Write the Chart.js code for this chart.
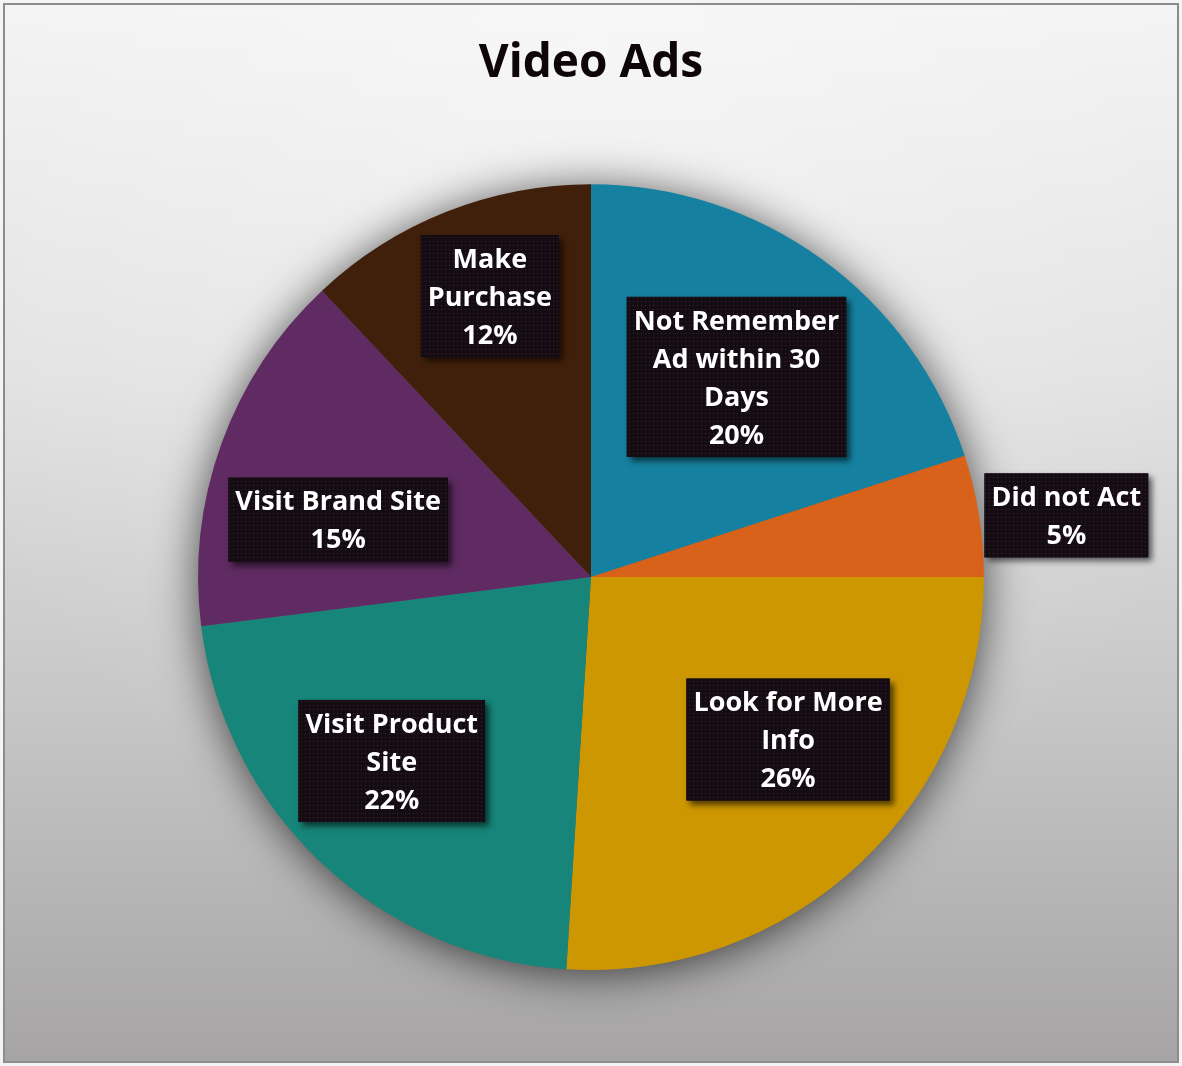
<!DOCTYPE html>
<html>
<head>
<meta charset="utf-8">
<script src="https://cdn.jsdelivr.net/npm/chart.js@4.4.1/dist/chart.umd.min.js"></script>
<style>
  html, body { margin: 0; padding: 0; background: #f2f2f2; }
  #wrap { width: 1182px; height: 1066px; position: relative; }
</style>
</head>
<body>
<div id="wrap"><canvas id="c"></canvas></div>
<script>
// ---- data ----
const chartTitle = "Video Ads";
const categories = [
  "Not Remember Ad within 30 Days",
  "Did not Act",
  "Look for More Info",
  "Visit Product Site",
  "Visit Brand Site",
  "Make Purchase"
];
const categoryLines = [
  ["Not Remember", "Ad within 30", "Days"],
  ["Did not Act"],
  ["Look for More", "Info"],
  ["Visit Product", "Site"],
  ["Visit Brand Site"],
  ["Make", "Purchase"]
];
const percentValues = [20, 5, 26, 22, 15, 12];
const sliceColors = ["#15809f", "#d9621a", "#cc9700", "#178579", "#5f2b62", "#40200a"];

// ---- label placement (radius fraction, angle shift in degrees) ----
const labelPlacement = [
  [0.63, 0], [1.22, 1.6], [0.65, -7.3], [0.69, 4.1], [0.66, -7], [0.76, 1.8]
];

const LABEL_FONT = "bold 27px 'Open Sans'";
const LINE_H = 38;

// dotted pattern for label boxes
function makePattern(ctx) {
  const p = document.createElement('canvas');
  p.width = 4; p.height = 4;
  const g = p.getContext('2d');
  g.fillStyle = '#140b13';
  g.fillRect(0, 0, 4, 4);
  g.fillStyle = '#3a2838';
  g.fillRect(1, 1, 1, 1);
  return ctx.createPattern(p, 'repeat');
}

const bgPlugin = {
  id: 'bg',
  beforeDraw(chart) {
    const ctx = chart.ctx, W = chart.width, H = chart.height;
    ctx.save();
    ctx.fillStyle = '#f4f4f4';
    ctx.fillRect(0, 0, W, H);
    const g = ctx.createLinearGradient(0, 4, 0, H - 4);
    g.addColorStop(0, '#f3f3f3');
    g.addColorStop(0.35, '#e2e2e2');
    g.addColorStop(0.7, '#c4c3c3');
    g.addColorStop(1, '#a6a4a4');
    ctx.fillStyle = g;
    ctx.fillRect(4, 4, W - 8, H - 8);
    const r = ctx.createRadialGradient(W / 2, 40, 10, W / 2, 200, 700);
    r.addColorStop(0, 'rgba(255,255,255,0.35)');
    r.addColorStop(1, 'rgba(255,255,255,0)');
    ctx.fillStyle = r;
    ctx.fillRect(4, 4, W - 8, H - 8);
    ctx.strokeStyle = '#8c8c8c';
    ctx.lineWidth = 2;
    ctx.strokeRect(4, 4, W - 8, H - 8);
    ctx.restore();
  },
  beforeDatasetsDraw(chart) {
    const arc = chart.getDatasetMeta(0).data[0];
    if (!arc) return;
    const ctx = chart.ctx;
    ctx.save();
    ctx.shadowColor = 'rgba(0,0,0,0.7)';
    ctx.shadowBlur = 45;
    ctx.shadowOffsetY = 4;
    ctx.fillStyle = '#666';
    ctx.beginPath();
    ctx.arc(arc.x, arc.y, arc.outerRadius - 1, 0, Math.PI * 2);
    ctx.fill();
    ctx.restore();
  }
};

const labelPlugin = {
  id: 'boxLabels',
  afterDatasetsDraw(chart) {
    const ctx = chart.ctx;
    const meta = chart.getDatasetMeta(0);
    const pat = makePattern(ctx);
    ctx.save();
    ctx.font = LABEL_FONT;
    ctx.textAlign = 'center';
    ctx.textBaseline = 'middle';
    meta.data.forEach((arc, i) => {
      const lines = categoryLines[i].concat([percentValues[i] + '%']);
      const [rf, dA] = labelPlacement[i];
      const mid = (arc.startAngle + arc.endAngle) / 2 + dA * Math.PI / 180;
      const cx = arc.x + Math.cos(mid) * arc.outerRadius * rf;
      const cy = arc.y + Math.sin(mid) * arc.outerRadius * rf;
      let w = 0;
      lines.forEach(l => { w = Math.max(w, ctx.measureText(l).width); });
      const bw = w + 14, bh = lines.length * LINE_H + 8;
      const bx = cx - bw / 2, by = cy - bh / 2;
      ctx.save();
      ctx.shadowColor = 'rgba(0,0,0,0.6)';
      ctx.shadowBlur = 6;
      ctx.shadowOffsetX = 4;
      ctx.shadowOffsetY = 4;
      ctx.fillStyle = '#140b13';
      ctx.fillRect(bx, by, bw, bh);
      ctx.restore();
      ctx.fillStyle = pat;
      ctx.fillRect(bx, by, bw, bh);
      ctx.fillStyle = '#ffffff';
      lines.forEach((l, k) => {
        ctx.fillText(l, cx, by + 6 + LINE_H * (k + 0.5));
      });
    });
    ctx.restore();
  }
};

new Chart(document.getElementById('c'), {
  type: 'pie',
  data: {
    labels: categories,
    datasets: [{
      data: percentValues,
      backgroundColor: sliceColors,
      borderWidth: 0
    }]
  },
  options: {
    responsive: true,
    maintainAspectRatio: false,
    animation: false,
    layout: { padding: { top: 0, bottom: 96, left: 0, right: 0 } },
    plugins: {
      legend: { display: false },
      tooltip: { enabled: false },
      title: {
        display: true,
        text: chartTitle,
        color: '#0d0508',
        font: { family: 'Open Sans', size: 46, weight: 'bold' },
        padding: { top: 36, bottom: 93 }
      }
    }
  },
  plugins: [bgPlugin, labelPlugin]
});
</script>
</body>
</html>
